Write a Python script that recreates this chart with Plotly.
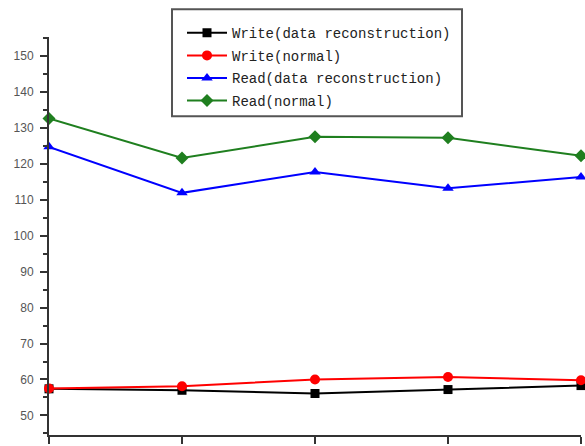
import plotly.graph_objects as go

# Test points along the x axis
x_points = [1, 2, 3, 4, 5]

# Throughput values per series
write_recon = [57.4, 57.0, 56.1, 57.2, 58.3]
write_normal = [57.5, 58.1, 60.0, 60.7, 59.8]
read_recon = [124.7, 111.9, 117.7, 113.2, 116.3]
read_normal = [132.6, 121.6, 127.5, 127.2, 122.2]

series_names = [
    "Write(data reconstruction)",
    "Write(normal)",
    "Read(data reconstruction)",
    "Read(normal)",
]
series_values = [write_recon, write_normal, read_recon, read_normal]
series_colors = ["#000000", "#ff0000", "#0000ff", "#1f7f1f"]
series_symbols = ["square", "circle", "triangle-up", "diamond"]
series_sizes = [9, 10, 10, 10]

y_ticks = [50, 60, 70, 80, 90, 100, 110, 120, 130, 140, 150]

# plot area in pixels: left 49, right 581, top 37, bottom 439
PL, PR, PT, PB = 49, 581, 37, 439


def px_x(p):
    return (p - PL) / (PR - PL)


def px_y(p):
    return 1 - (p - PT) / (PB - PT)


fig = go.Figure()
for i, (name, vals, color, sym, size) in enumerate(zip(series_names, series_values,
                                                        series_colors, series_symbols,
                                                        series_sizes)):
    fig.add_trace(go.Scatter(
        x=x_points, y=vals, name=name, mode="lines+markers",
        line=dict(color=color, width=2),
        marker=dict(symbol=sym, size=size, color=color),
        cliponaxis=False,
        legendgroup=f"g{i}",
    ))

# legend frame
fig.add_shape(
    type="rect", xref="paper", yref="paper",
    x0=px_x(172), x1=px_x(462), y0=px_y(117), y1=px_y(9),
    line=dict(color="#555555", width=2), fillcolor="white", layer="above",
)

fig.update_layout(
    width=585, height=446,
    margin=dict(l=PL, r=585 - PR, t=PT, b=446 - PB),
    paper_bgcolor="white", plot_bgcolor="white",
    showlegend=True,
    legend=dict(
        x=px_x(182), y=px_y(17), xanchor="left", yanchor="top",
        bgcolor="rgba(0,0,0,0)", borderwidth=0,
        font=dict(family="Liberation Mono", size=14, color="#222222"),
        itemwidth=40, tracegroupgap=1.4,
    ),
    xaxis=dict(
        range=[1, 5], tickvals=x_points, showticklabels=False,
        ticks="outside", ticklen=7, tickwidth=2, tickcolor="#333333",
        showline=True, linecolor="#333333", linewidth=2,
        showgrid=False, zeroline=False,
    ),
    yaxis=dict(
        range=[44.56, 155.24], tickvals=y_ticks,
        ticks="outside", ticklen=7, tickwidth=2, tickcolor="#333333",
        showline=True, linecolor="#333333", linewidth=2,
        showgrid=False, zeroline=False,
        ticklabelstandoff=4,
        tickfont=dict(family="Liberation Sans", size=12, color="#555555"),
        minor=dict(dtick=5, tick0=0, ticks="outside", ticklen=4,
                   tickwidth=2, tickcolor="#333333", showgrid=False),
    ),
)

fig.write_html("out.html")
